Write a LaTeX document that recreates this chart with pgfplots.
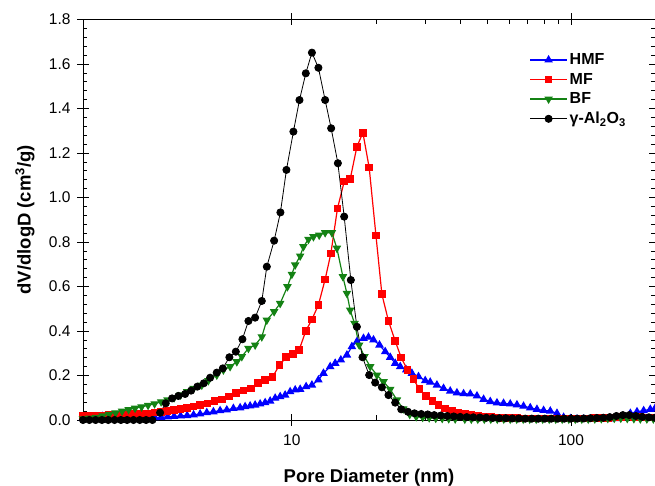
\documentclass[border=0pt]{standalone}
\usepackage{pgfplots}
\pgfplotsset{compat=1.18}
\usepackage{fontspec}
\setmainfont{Liberation Sans}
\usetikzlibrary{plotmarks}
\definecolor{bfgreen}{RGB}{20,130,20}
\begin{document}
\begin{tikzpicture}
\begin{axis}[
 name=ax,
 scale only axis, width=572pt, height=400.5pt,
 xmode=log, xmin=1.786, xmax=200, ymin=0, ymax=1.8,
 log ticks with fixed point,
 xtick={10,100}, xticklabels={10,100},
 ytick={0,0.2,0.4,0.6,0.8,1.0,1.2,1.4,1.6,1.8},
 yticklabels={0.0,0.2,0.4,0.6,0.8,1.0,1.2,1.4,1.6,1.8},
 minor y tick num=4,
 /pgf/number format/assume math mode=true,
 tick label style={font=\fontsize{15.5}{18}\selectfont},
 tick align=inside,
 major tick length=6pt, minor tick length=4.5pt,
 extra x ticks={10,100}, extra x tick labels={},
 extra x tick style={tick align=outside},
 extra y ticks={0,0.2,0.4,0.6,0.8,1.0,1.2,1.4,1.6,1.8}, extra y tick labels={},
 extra y tick style={tick align=outside, ytick pos=left},
 axis line style={line width=0.8pt},
 every tick/.style={black, line width=0.7pt},
 xticklabel style={yshift=-11pt},
 yticklabel style={xshift=-9pt},
 xlabel={Pore Diameter (nm)},
 ylabel={dV/dlogD (cm\textsuperscript{3}/g)},
 label style={font=\bfseries\fontsize{18.5}{22}\selectfont},
 xlabel style={at={(axis description cs:0.5,0)}, anchor=center, yshift=-58pt},
 ylabel style={at={(axis description cs:-0.1014,0.5)}, anchor=center},
 clip=false,
 legend style={draw=none, fill=none, at={(0.775,0.925)}, anchor=north west,
   font=\bfseries\fontsize{16}{19}\selectfont, row sep=3pt},
 legend cell align=left,
 legend image code/.code={\draw[mark repeat=2,mark phase=2] plot coordinates {(0pt,0pt) (18.5pt,0pt) (37pt,0pt)};},
]
\addplot[color=blue, line width=1.2pt, mark=triangle*, mark size=3.8pt, mark options={solid, fill=blue}] coordinates {
(1.786,0.010)(1.885,0.012)(1.989,0.014)(2.099,0.016)(2.214,0.015)(2.336,0.013)(2.465,0.012)(2.601,0.011)(2.744,0.010)(2.895,0.010)(3.055,0.010)(3.223,0.011)(3.401,0.012)(3.588,0.014)(3.786,0.016)(3.995,0.018)(4.215,0.020)(4.446,0.023)(4.692,0.027)(4.958,0.033)(5.236,0.037)(5.534,0.042)(5.848,0.045)(6.175,0.052)(6.527,0.055)(6.801,0.060)(7.088,0.063)(7.388,0.067)(7.700,0.072)(8.023,0.078)(8.363,0.085)(8.714,0.098)(9.081,0.105)(9.462,0.112)(9.861,0.127)(10.28,0.135)(10.71,0.138)(11.25,0.150)(11.80,0.157)(12.45,0.180)(12.98,0.210)(13.72,0.240)(14.30,0.255)(14.98,0.270)(15.75,0.292)(16.41,0.330)(17.10,0.352)(18.06,0.367)(18.82,0.372)(19.61,0.360)(20.61,0.337)(21.60,0.307)(22.51,0.282)(23.46,0.255)(24.45,0.240)(25.69,0.225)(26.92,0.210)(28.43,0.195)(30.05,0.177)(31.31,0.170)(33.09,0.157)(34.95,0.142)(36.94,0.130)(39.04,0.122)(41.23,0.118)(43.58,0.117)(46.05,0.108)(48.63,0.093)(51.39,0.083)(54.31,0.077)(57.34,0.075)(60.59,0.072)(64.04,0.068)(67.62,0.062)(71.46,0.055)(75.52,0.048)(79.78,0.043)(84.31,0.040)(89.10,0.030)(94.08,0.012)(99.43,0.006)(105.1,0.004)(111.0,0.004)(117.3,0.004)(124.0,0.004)(130.9,0.004)(138.3,0.005)(146.2,0.006)(154.3,0.010)(163.2,0.030)(172.4,0.037)(182.1,0.042)(192.4,0.048)(200,0.052)
};
\addlegendentry{HMF}
\addplot[color=red, line width=1.2pt, mark=square*, mark size=3.2pt, mark options={solid, fill=red}] coordinates {
(1.786,0.018)(1.885,0.019)(1.989,0.020)(2.099,0.021)(2.214,0.022)(2.336,0.023)(2.465,0.024)(2.601,0.025)(2.744,0.026)(2.895,0.028)(3.055,0.030)(3.223,0.033)(3.401,0.037)(3.588,0.041)(3.786,0.045)(3.995,0.050)(4.215,0.055)(4.446,0.061)(4.692,0.067)(4.984,0.075)(5.280,0.085)(5.612,0.093)(5.962,0.105)(6.315,0.120)(6.708,0.132)(7.129,0.142)(7.553,0.165)(8.023,0.180)(8.519,0.192)(9.028,0.247)(9.541,0.282)(10.08,0.297)(10.62,0.315)(11.22,0.400)(11.80,0.452)(12.45,0.517)(13.16,0.632)(13.80,0.749)(14.57,0.951)(15.40,1.071)(16.18,1.082)(17.10,1.228)(17.97,1.291)(18.93,1.134)(20.01,0.830)(21.02,0.565)(22.19,0.445)(23.46,0.355)(24.65,0.280)(25.96,0.225)(27.28,0.183)(28.67,0.138)(30.30,0.108)(31.91,0.085)(33.53,0.067)(35.45,0.052)(37.46,0.042)(39.47,0.034)(41.65,0.028)(43.94,0.023)(46.35,0.019)(48.91,0.016)(51.60,0.013)(54.44,0.011)(57.43,0.010)(60.59,0.009)(63.92,0.008)(67.45,0.007)(71.16,0.007)(75.08,0.006)(79.21,0.006)(83.57,0.006)(88.17,0.006)(93.02,0.006)(98.2,0.006)(103.6,0.006)(109.3,0.006)(115.3,0.007)(121.7,0.008)(128.4,0.009)(135.5,0.010)(142.9,0.012)(150.8,0.014)(159.1,0.015)(168.0,0.014)(177.2,0.013)(187.0,0.012)(197.2,0.011)
};
\addlegendentry{MF}
\addplot[color=bfgreen, line width=1.2pt, mark=triangle*, mark size=3.8pt, mark options={solid, fill=bfgreen, rotate=180}] coordinates {
(1.786,0.005)(1.885,0.008)(1.989,0.012)(2.099,0.018)(2.214,0.025)(2.336,0.032)(2.465,0.040)(2.601,0.047)(2.744,0.053)(2.895,0.059)(3.055,0.066)(3.223,0.073)(3.401,0.082)(3.588,0.090)(3.786,0.100)(3.995,0.113)(4.215,0.128)(4.446,0.142)(4.759,0.157)(5.025,0.177)(5.385,0.202)(5.686,0.225)(6.009,0.240)(6.352,0.262)(6.620,0.285)(6.990,0.322)(7.388,0.337)(7.806,0.374)(8.135,0.449)(8.641,0.487)(9.081,0.524)(9.643,0.599)(10.0,0.655)(10.28,0.697)(10.71,0.737)(11.00,0.779)(11.47,0.812)(11.95,0.824)(12.53,0.831)(13.16,0.842)(13.91,0.842)(14.50,0.772)(15.24,0.644)(15.75,0.569)(16.18,0.494)(16.77,0.434)(17.43,0.337)(18.20,0.285)(19.09,0.240)(20.17,0.202)(21.30,0.172)(22.51,0.138)(23.79,0.090)(25.06,0.050)(26.44,0.025)(27.89,0.015)(29.43,0.012)(31.05,0.010)(32.77,0.008)(34.57,0.007)(36.48,0.006)(38.48,0.005)(41.65,0.004)(43.94,0.004)(46.35,0.004)(48.91,0.004)(51.60,0.004)(54.44,0.004)(57.43,0.004)(60.59,0.004)(63.92,0.004)(67.45,0.004)(71.16,0.004)(75.08,0.004)(79.21,0.004)(83.57,0.004)(88.17,0.004)(93.02,0.004)(98.2,0.004)(103.6,0.004)(109.3,0.004)(115.3,0.004)(121.7,0.005)(128.4,0.006)(135.5,0.007)(142.9,0.008)(150.8,0.008)(159.1,0.007)(168.0,0.006)(177.2,0.005)(187.0,0.005)(197.2,0.005)
};
\addlegendentry{BF}
\addplot[color=black, line width=0.8pt, mark=*, mark size=3.6pt, mark options={solid, fill=black}] coordinates {
(1.786,0)(1.882,0)(1.982,0)(2.088,0)(2.199,0)(2.317,0)(2.441,0)(2.570,0)(2.708,0)(2.852,0)(3.005,0)(3.166,0)(3.373,0.033)(3.535,0.075)(3.724,0.097)(3.922,0.108)(4.146,0.117)(4.356,0.132)(4.587,0.150)(4.837,0.165)(5.096,0.190)(5.385,0.213)(5.658,0.232)(5.974,0.282)(6.300,0.307)(6.652,0.363)(6.990,0.445)(7.388,0.460)(7.806,0.535)(8.135,0.689)(8.641,0.806)(9.101,0.933)(9.564,1.124)(10.13,1.296)(10.65,1.438)(11.22,1.558)(11.80,1.651)(12.45,1.583)(13.16,1.438)(13.83,1.311)(14.62,1.154)(15.40,0.914)(16.27,0.629)(17.10,0.419)(17.91,0.282)(18.93,0.202)(19.89,0.168)(21.02,0.147)(22.19,0.112)(23.46,0.078)(24.65,0.048)(26.05,0.037)(27.50,0.030)(29.07,0.027)(30.67,0.025)(32.36,0.022)(34.15,0.020)(36.04,0.018)(38.02,0.016)(40.12,0.014)(42.33,0.013)(44.66,0.012)(47.12,0.011)(49.72,0.010)(52.46,0.009)(55.35,0.008)(58.40,0.008)(61.62,0.007)(65.01,0.007)(68.59,0.006)(72.37,0.006)(76.36,0.006)(80.56,0.006)(85.00,0.006)(89.68,0.006)(94.62,0.006)(99.84,0.006)(105.3,0.006)(111.1,0.007)(117.3,0.008)(123.7,0.009)(130.5,0.010)(137.7,0.013)(145.4,0.018)(153.4,0.022)(161.8,0.022)(170.7,0.018)(180.1,0.014)(190.1,0.012)(200,0.010)
};
\addlegendentry{γ-Al\textsubscript{2}O\textsubscript{3}}
\end{axis}
\pgfresetboundingbox
\path ([shift={(-83pt,-66pt)}]ax.south west) rectangle ([shift={(0pt,19.5pt)}]ax.north east);
\end{tikzpicture}
\end{document}
